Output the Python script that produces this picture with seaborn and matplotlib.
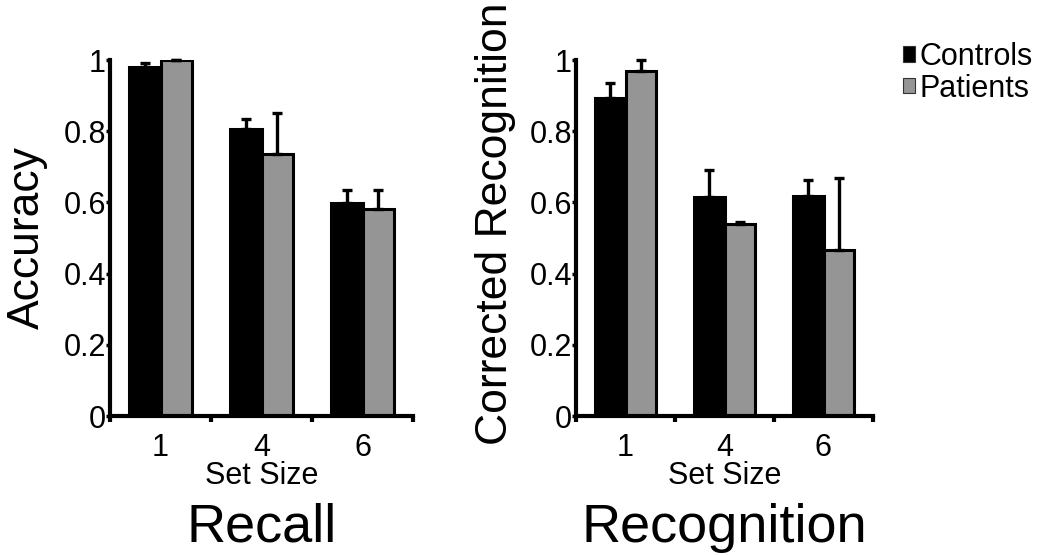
import pandas as pd
import matplotlib.pyplot as plt
import seaborn as sns
from matplotlib.patches import Patch

# Données
set_sizes = ['1', '4', '6']
groups = ['Controls', 'Patients']

recall_controls = [0.981, 0.806, 0.597]
recall_patients = [1.000, 0.737, 0.582]
recall_controls_err = [0.010, 0.028, 0.039]
recall_patients_err = [0.000, 0.115, 0.052]

recog_controls = [0.893, 0.615, 0.619]
recog_patients = [0.968, 0.538, 0.467]
recog_controls_err = [0.041, 0.075, 0.043]
recog_patients_err = [0.032, 0.006, 0.202]

ytick_vals = [0, 0.2, 0.4, 0.6, 0.8, 1]
ytick_labels = ['0', '0.2', '0.4', '0.6', '0.8', '1']

colors = {'Controls': '#000000', 'Patients': '#959595'}

sns.set_style('ticks')
plt.rcParams['font.family'] = ['Liberation Sans', 'DejaVu Sans']
for k in ['text.color', 'axes.labelcolor', 'xtick.color', 'ytick.color', 'axes.edgecolor']:
    plt.rcParams[k] = 'black'


def make_df(ctrl, pat, ctrl_err, pat_err):
    rows = []
    for i, s in enumerate(set_sizes):
        rows.append({'SetSize': s, 'Group': 'Controls', 'val': ctrl[i], 'err': ctrl_err[i]})
        rows.append({'SetSize': s, 'Group': 'Patients', 'val': pat[i], 'err': pat_err[i]})
    return pd.DataFrame(rows)


def draw(ax, df, ylabel, title, ylab_x, ylab_y):
    sns.barplot(data=df, x='SetSize', y='val', hue='Group', order=set_sizes,
                hue_order=groups, palette=colors, width=0.62, errorbar=None,
                edgecolor='black', linewidth=2.2, legend=False, ax=ax)
    # barres d'erreur (vers le haut seulement)
    for g, bars in zip(groups, ax.containers):
        sub = df[df['Group'] == g].set_index('SetSize').loc[set_sizes]
        xs = [b.get_x() + b.get_width() / 2 for b in bars]
        ys = [b.get_height() for b in bars]
        ax.errorbar(xs, ys, yerr=[[0] * len(ys), sub['err'].values], fmt='none',
                    ecolor='black', elinewidth=2.4, capsize=3.6, capthick=2.4,
                    clip_on=False, zorder=1)
    ax.set_ylim(0, 1)
    ax.set_xlim(-0.5, 2.5)
    ax.set_yticks(ytick_vals)
    ax.set_yticklabels(ytick_labels)
    ax.set_xticks(range(len(set_sizes)))
    ax.set_xticklabels(set_sizes)
    ax.set_xticks([-0.5, 0.5, 1.5, 2.5], minor=True)
    ax.tick_params(axis='x', which='major', length=0, pad=12, labelsize=22)
    ax.tick_params(axis='x', which='minor', length=4, width=3, direction='out')
    ax.tick_params(axis='y', length=3, width=2.5, pad=0, labelsize=22)
    for sp in ['left', 'bottom']:
        ax.spines[sp].set_linewidth(3)
    sns.despine(ax=ax)
    ax.set_xlabel('Set Size', fontsize=22, va='top')
    ax.xaxis.set_label_coords(0.5, -0.127)
    ax.set_ylabel(ylabel, fontsize=32)
    ax.yaxis.set_label_coords(ylab_x, ylab_y)
    ax.text(0.5, -0.353, title, transform=ax.transAxes, ha='center',
            va='baseline', fontsize=39)


fig = plt.figure(figsize=(10.5, 5.55), dpi=100)
ax1 = fig.add_axes([110 / 1050, 1 - 416 / 555, 303 / 1050, 356 / 555])
ax2 = fig.add_axes([576 / 1050, 1 - 416 / 555, 297 / 1050, 356 / 555])

draw(ax1, make_df(recall_controls, recall_patients, recall_controls_err, recall_patients_err),
     'Accuracy', 'Recall', -0.205, 0.5)
draw(ax2, make_df(recog_controls, recog_patients, recog_controls_err, recog_patients_err),
     'Corrected Recognition', 'Recognition', -0.202, 0.54)

handles = [Patch(facecolor=colors[g], edgecolor='#333333', linewidth=0.8, label=g) for g in groups]
fig.legend(handles=handles, loc='upper left', bbox_to_anchor=(903 / 1050, 1 - 42 / 555),
           frameon=False, fontsize=22, handlelength=0.4, handleheight=0.4,
           handletextpad=0.15, labelspacing=0.05, borderpad=0, borderaxespad=0)

plt.savefig('out.png', dpi=100)
